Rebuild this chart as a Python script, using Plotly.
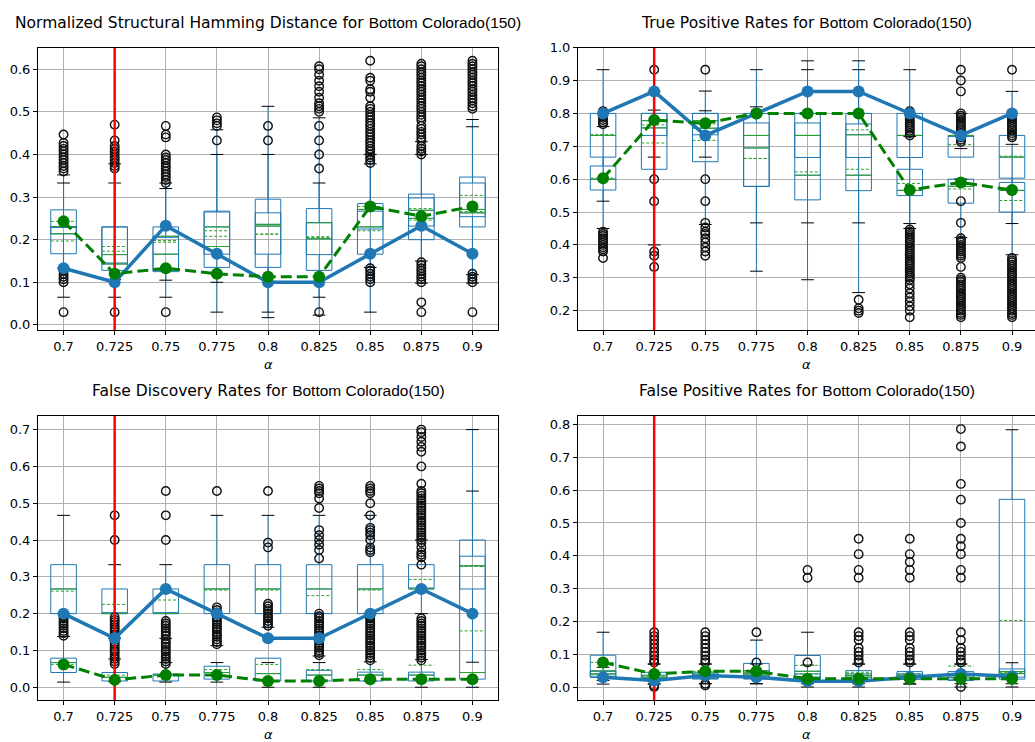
import plotly.graph_objects as go
from plotly.subplots import make_subplots

# ---------------- data ----------------
ALPHAS = ["0.7", "0.725", "0.75", "0.775", "0.8", "0.825", "0.85", "0.875", "0.9"]
MARKED_ALPHA = "0.725"
DATASET = "Bottom Colorado(150)"

# Normalized Structural Hamming Distance
NSHD_A_Q1 = [.167, .128, .125, .135, .135, .128, .166, .200, .230]
NSHD_A_MED = [.214, .165, .166, .230, .236, .240, .271, .269, .271]
NSHD_A_Q3 = [.270, .230, .230, .267, .295, .273, .285, .307, .347]
NSHD_A_MEAN = [.197, .184, .194, .221, .213, .207, .278, .273, .304]
NSHD_A_LO = [.065, .065, .065, .030, .017, .023, .030, .098, .098]
NSHD_A_HI = [.333, .333, .333, .458, .513, .486, .400, .430, .482]
NSHD_B_Q1 = [.214, .143, .128, .166, .166, .165, .225, .232, .254]
NSHD_B_MED = [.231, .143, .208, .184, .232, .202, .230, .250, .263]
NSHD_B_Q3 = [.231, .230, .208, .265, .263, .240, .267, .298, .333]
NSHD_B_MEAN = [.243, .173, .198, .208, .213, .205, .221, .246, .266]
NSHD_B_LO = [.133, .107, .105, .100, .030, .065, .135, .150, .118]
NSHD_B_HI = [.352, .378, .320, .400, .400, .333, .378, .400, .465]
NSHD_BLUE = [.133, .100, .233, .167, .100, .100, .167, .233, .167]
NSHD_GREEN = [.243, .120, .133, .120, .113, .113, .278, .255, .278]
NSHD_OUT = [
    [0.03, 0.1, 0.107, 0.113, 0.12, 0.127, 0.133, 0.36, 0.367, 0.373, 0.38, 0.387, 0.393, 0.4, 0.407, 0.413, 0.42, 0.427, 0.447],
    [0.03, 0.367, 0.373, 0.38, 0.387, 0.393, 0.4, 0.407, 0.413, 0.42, 0.433, 0.47],
    [0.03, 0.333, 0.34, 0.347, 0.353, 0.36, 0.367, 0.373, 0.38, 0.387, 0.393, 0.4, 0.44, 0.447, 0.467],
    [0.433, 0.467, 0.473, 0.48, 0.487],
    [0.433, 0.467],
    [0.03, 0.367, 0.4, 0.433, 0.467, 0.5, 0.507, 0.513, 0.52, 0.533, 0.547, 0.56, 0.573, 0.587, 0.6, 0.607],
    [0.1, 0.107, 0.113, 0.12, 0.127, 0.133, 0.38, 0.387, 0.393, 0.4, 0.407, 0.413, 0.42, 0.427, 0.433, 0.44, 0.447,
     0.453, 0.46, 0.467, 0.473, 0.48, 0.487, 0.493, 0.5, 0.507, 0.513, 0.533, 0.547, 0.553, 0.573, 0.58, 0.62],
    [0.03, 0.053, 0.1, 0.107, 0.113, 0.12, 0.127, 0.133, 0.14, 0.147, 0.4, 0.407, 0.413, 0.42, 0.433, 0.44, 0.447,
     0.453, 0.46, 0.467, 0.48, 0.487, 0.493, 0.5, 0.507, 0.513, 0.52, 0.527, 0.533, 0.54, 0.547, 0.553, 0.56, 0.567,
     0.573, 0.58, 0.587, 0.593, 0.6, 0.607, 0.613],
    [0.03, 0.1, 0.107, 0.113, 0.12, 0.507, 0.513, 0.52, 0.527, 0.533, 0.54, 0.547, 0.553, 0.56, 0.567, 0.573, 0.58,
     0.587, 0.593, 0.6, 0.607, 0.613, 0.62],
]

# True Positive Rates
TPR_A_Q1 = [.667, .630, .653, .578, .537, .565, .666, .667, .603]
TPR_A_MED = [.733, .756, .755, .733, .612, .612, .733, .733, .667]
TPR_A_Q3 = [.800, .800, .800, .800, .800, .800, .800, .733, .733]
TPR_A_MEAN = [.736, .710, .718, .663, .622, .630, .733, .705, .670]
TPR_A_LO = [.533, .400, .462, .320, .294, .255, .465, .693, .465]
TPR_A_HI = [.933, .867, .868, .933, .960, .960, .933, .800, .867]
TPR_B_Q1 = [.567, .733, .735, .578, .666, .666, .550, .527, .500]
TPR_B_MED = [.600, .778, .778, .695, .733, .735, .566, .578, .566]
TPR_B_Q3 = [.640, .800, .800, .771, .771, .768, .630, .600, .590]
TPR_B_MEAN = [.603, .765, .768, .663, .733, .750, .587, .570, .535]
TPR_B_LO = [.450, .667, .667, .467, .467, .467, .450, .422, .370]
TPR_B_HI = [.760, .810, .808, .820, .933, .933, .730, .600, .706]
TPR_BLUE = [.800, .867, .733, .800, .867, .867, .800, .733, .800]
TPR_GREEN = [.603, .780, .770, .800, .800, .800, .567, .590, .567]
TPR_OUT = [
    [0.36, 0.38, 0.387, 0.393, 0.4, 0.407, 0.413, 0.42, 0.427, 0.433, 0.44, 0.767, 0.773, 0.78, 0.787, 0.793, 0.8, 0.807],
    [0.333, 0.367, 0.38, 0.533, 0.6, 0.933],
    [0.367, 0.38, 0.393, 0.407, 0.42, 0.433, 0.44, 0.453, 0.467, 0.533, 0.6, 0.933],
    [],
    [],
    [0.193, 0.2, 0.207, 0.233],
    [0.18, 0.2, 0.213, 0.227, 0.24, 0.253, 0.267, 0.28, 0.293, 0.3, 0.307, 0.313, 0.32, 0.327, 0.333, 0.34, 0.347,
     0.353, 0.36, 0.367, 0.373, 0.38, 0.387, 0.393, 0.4, 0.407, 0.413, 0.42, 0.427, 0.433, 0.44, 0.447, 0.733, 0.74,
     0.747, 0.753, 0.76, 0.767, 0.773, 0.78, 0.787, 0.793, 0.8, 0.807],
    [0.18, 0.187, 0.193, 0.2, 0.207, 0.213, 0.22, 0.227, 0.233, 0.24, 0.247, 0.253, 0.26, 0.267, 0.273, 0.28, 0.287,
     0.293, 0.3, 0.333, 0.36, 0.367, 0.373, 0.38, 0.387, 0.393, 0.4, 0.407, 0.413, 0.42, 0.467, 0.533, 0.713, 0.72,
     0.727, 0.733, 0.74, 0.747, 0.753, 0.76, 0.767, 0.773, 0.78, 0.787, 0.793, 0.8, 0.867, 0.9, 0.933],
    [0.18, 0.187, 0.193, 0.2, 0.207, 0.213, 0.22, 0.227, 0.233, 0.24, 0.247, 0.253, 0.26, 0.267, 0.273, 0.28, 0.287,
     0.293, 0.3, 0.307, 0.313, 0.32, 0.327, 0.333, 0.34, 0.347, 0.353, 0.36, 0.727, 0.733, 0.74, 0.747, 0.753, 0.76,
     0.767, 0.773, 0.78, 0.787, 0.793, 0.8, 0.933],
]

# False Discovery Rates
FDR_A_Q1 = [.200, .200, .200, .200, .200, .200, .200, .267, .022]
FDR_A_MED = [.267, .200, .200, .267, .267, .267, .267, .267, .040]
FDR_A_Q3 = [.333, .267, .267, .333, .333, .333, .333, .333, .400]
FDR_A_MEAN = [.261, .225, .237, .264, .264, .249, .264, .293, .153]
FDR_A_LO = [.200, .133, .133, .113, .163, .085, .200, .200, .000]
FDR_A_HI = [.467, .333, .333, .467, .467, .467, .467, .400, .700]
FDR_B_Q1 = [.040, .017, .017, .022, .017, .017, .017, .017, .267]
FDR_B_MED = [.067, .027, .033, .040, .037, .033, .033, .033, .330]
FDR_B_Q3 = [.079, .040, .036, .057, .079, .046, .041, .041, .356]
FDR_B_MEAN = [.062, .033, .033, .048, .062, .048, .048, .060, .328]
FDR_B_LO = [.014, .015, .014, .014, .000, .000, .017, .000, .068]
FDR_B_HI = [.138, .077, .067, .067, .067, .067, .069, .075, .533]
FDR_BLUE = [.200, .133, .267, .200, .133, .133, .200, .267, .200]
FDR_GREEN = [.062, .020, .033, .033, .017, .017, .022, .022, .022]
FDR_OUT = [
    [0.14, 0.147, 0.153, 0.16, 0.167, 0.173, 0.18, 0.187, 0.193, 0.2],
    [0.063, 0.07, 0.077, 0.083, 0.09, 0.097, 0.103, 0.11, 0.117, 0.123, 0.13, 0.137, 0.143, 0.15, 0.157, 0.163,
     0.17, 0.177, 0.183, 0.19, 0.4, 0.467],
    [0.063, 0.07, 0.077, 0.083, 0.09, 0.097, 0.103, 0.11, 0.117, 0.123, 0.13, 0.14, 0.147, 0.153, 0.16, 0.167,
     0.173, 0.18, 0.4, 0.467, 0.533],
    [0.117, 0.123, 0.13, 0.137, 0.143, 0.15, 0.157, 0.163, 0.17, 0.177, 0.183, 0.19, 0.197, 0.203, 0.21, 0.217, 0.533],
    [0.167, 0.173, 0.18, 0.187, 0.193, 0.2, 0.207, 0.213, 0.22, 0.227, 0.38, 0.393, 0.533],
    [0.087, 0.093, 0.1, 0.107, 0.113, 0.12, 0.127, 0.133, 0.14, 0.147, 0.153, 0.16, 0.167, 0.173, 0.18, 0.187,
     0.193, 0.2, 0.35, 0.373, 0.387, 0.4, 0.413, 0.427, 0.487, 0.513, 0.527, 0.533, 0.54, 0.547],
    [0.073, 0.08, 0.087, 0.093, 0.1, 0.107, 0.113, 0.12, 0.127, 0.133, 0.14, 0.147, 0.153, 0.16, 0.167, 0.173,
     0.18, 0.187, 0.193, 0.367, 0.373, 0.38, 0.4, 0.413, 0.42, 0.427, 0.433, 0.467, 0.5, 0.527, 0.533, 0.54, 0.547],
    [0.073, 0.08, 0.087, 0.093, 0.1, 0.107, 0.113, 0.12, 0.127, 0.133, 0.14, 0.147, 0.153, 0.16, 0.167, 0.173,
     0.18, 0.187, 0.333, 0.353, 0.36, 0.367, 0.38, 0.393, 0.4, 0.407, 0.413, 0.42, 0.427, 0.433, 0.44, 0.447,
     0.453, 0.46, 0.467, 0.473, 0.48, 0.487, 0.493, 0.5, 0.507, 0.513, 0.52, 0.527, 0.533, 0.553, 0.6, 0.64,
     0.653, 0.667, 0.68, 0.693, 0.7],
    [],
]

# False Positive Rates
FPR_A_Q1 = [.029, .020, .025, .025, .027, .019, .024, .024, .024]
FPR_A_MED = [.049, .030, .036, .040, .048, .035, .036, .036, .047]
FPR_A_Q3 = [.097, .045, .045, .072, .096, .050, .047, .047, .572]
FPR_A_MEAN = [.075, .035, .040, .050, .066, .045, .040, .064, .203]
FPR_A_LO = [.009, .009, .010, .010, .000, .000, .009, .000, .000]
FPR_A_HI = [.167, .070, .070, .143, .167, .070, .070, .070, .784]
FPR_B_Q1 = [.033, .020, .025, .025, .020, .020, .024, .020, .030]
FPR_B_MED = [.040, .025, .030, .036, .030, .030, .030, .030, .041]
FPR_B_Q3 = [.048, .036, .040, .050, .040, .040, .040, .040, .055]
FPR_B_MEAN = [.040, .030, .048, .045, .040, .040, .035, .035, .045]
FPR_B_LO = [.020, .010, .010, .010, .010, .010, .010, .010, .010]
FPR_B_HI = [.060, .070, .070, .070, .067, .070, .070, .070, .074]
FPR_BLUE = [.030, .020, .035, .030, .018, .018, .030, .040, .033]
FPR_GREEN = [.075, .040, .048, .048, .025, .025, .025, .025, .025]
FPR_OUT = [
    [],
    [0.0, 0.005, 0.075, 0.083, 0.095, 0.107, 0.119, 0.131, 0.143, 0.155, 0.167],
    [0.005, 0.01, 0.075, 0.083, 0.095, 0.107, 0.119, 0.131, 0.143, 0.155, 0.167],
    [0.075, 0.167],
    [0.075, 0.333, 0.357],
    [0.075, 0.083, 0.095, 0.107, 0.119, 0.143, 0.155, 0.167, 0.333, 0.357, 0.405, 0.452],
    [0.075, 0.083, 0.095, 0.107, 0.119, 0.143, 0.155, 0.167, 0.333, 0.357, 0.381, 0.405, 0.452],
    [0.0, 0.075, 0.083, 0.095, 0.107, 0.119, 0.143, 0.167, 0.333, 0.357, 0.405, 0.429, 0.452, 0.5, 0.571,
     0.619, 0.733, 0.786],
    [],
]

# ---------------- styling / layout ----------------
BLUE = "#1f77b4"
MED_GREEN = "#2ca02c"
LINE_GREEN = "#008000"
FONT = "DejaVu Sans"
BOX_HALF = 0.25
CAP_HALF = 0.125

panels = [
    dict(row=1, col=1, name="Normalized Structural Hamming Distance",
         A=(NSHD_A_Q1, NSHD_A_MED, NSHD_A_Q3, NSHD_A_MEAN, NSHD_A_LO, NSHD_A_HI),
         B=(NSHD_B_Q1, NSHD_B_MED, NSHD_B_Q3, NSHD_B_MEAN, NSHD_B_LO, NSHD_B_HI),
         blue=NSHD_BLUE, green=NSHD_GREEN, out=NSHD_OUT,
         yrange=[-0.012, 0.651], xrange=[-0.5, 8.5],
         xdom=[38 / 1035, 498 / 1035], ydom=[1 - 327 / 742, 1 - 41 / 742]),
    dict(row=1, col=2, name="True Positive Rates",
         A=(TPR_A_Q1, TPR_A_MED, TPR_A_Q3, TPR_A_MEAN, TPR_A_LO, TPR_A_HI),
         B=(TPR_B_Q1, TPR_B_MED, TPR_B_Q3, TPR_B_MEAN, TPR_B_LO, TPR_B_HI),
         blue=TPR_BLUE, green=TPR_GREEN, out=TPR_OUT,
         yrange=[0.141, 1.0005], xrange=[-0.49, 8.45],
         xdom=[578 / 1035, 1.0], ydom=[1 - 327 / 742, 1 - 41 / 742]),
    dict(row=2, col=1, name="False Discovery Rates",
         A=(FDR_A_Q1, FDR_A_MED, FDR_A_Q3, FDR_A_MEAN, FDR_A_LO, FDR_A_HI),
         B=(FDR_B_Q1, FDR_B_MED, FDR_B_Q3, FDR_B_MEAN, FDR_B_LO, FDR_B_HI),
         blue=FDR_BLUE, green=FDR_GREEN, out=FDR_OUT,
         yrange=[-0.036, 0.737], xrange=[-0.5, 8.5],
         xdom=[38 / 1035, 498 / 1035], ydom=[1 - 702 / 742, 1 - 414 / 742]),
    dict(row=2, col=2, name="False Positive Rates",
         A=(FPR_A_Q1, FPR_A_MED, FPR_A_Q3, FPR_A_MEAN, FPR_A_LO, FPR_A_HI),
         B=(FPR_B_Q1, FPR_B_MED, FPR_B_Q3, FPR_B_MEAN, FPR_B_LO, FPR_B_HI),
         blue=FPR_BLUE, green=FPR_GREEN, out=FPR_OUT,
         yrange=[-0.041, 0.826], xrange=[-0.49, 8.45],
         xdom=[578 / 1035, 1.0], ydom=[1 - 702 / 742, 1 - 414 / 742]),
]

pos = list(range(len(ALPHAS)))
mark_pos = ALPHAS.index(MARKED_ALPHA)

fig = make_subplots(rows=2, cols=2)


def segs(values, half):
    xs, ys = [], []
    for p, v in zip(pos, values):
        xs += [p - half, p + half, None]
        ys += [v, v, None]
    return xs, ys


for k, pn in enumerate(panels):
    r, c = pn["row"], pn["col"]
    # boxes (box + whiskers)
    for stats in (pn["A"], pn["B"]):
        q1, med, q3, mean, lo, hi = stats
        fig.add_trace(go.Box(x=pos, q1=q1, median=med, q3=q3, lowerfence=lo, upperfence=hi,
                             width=2 * BOX_HALF, whiskerwidth=0, boxpoints=False,
                             line=dict(color=BLUE, width=1), fillcolor="rgba(0,0,0,0)",
                             hoverinfo="skip", showlegend=False), row=r, col=c)
    # caps
    for stats in (pn["A"], pn["B"]):
        for vals in (stats[4], stats[5]):
            xs, ys = segs(vals, CAP_HALF)
            fig.add_trace(go.Scatter(x=xs, y=ys, mode="lines", line=dict(color="black", width=1),
                                     hoverinfo="skip", showlegend=False), row=r, col=c)
    # medians and means
    for stats in (pn["A"], pn["B"]):
        xs, ys = segs(stats[1], BOX_HALF)
        fig.add_trace(go.Scatter(x=xs, y=ys, mode="lines", line=dict(color=MED_GREEN, width=1),
                                 hoverinfo="skip", showlegend=False), row=r, col=c)
        xs, ys = segs(stats[3], BOX_HALF)
        fig.add_trace(go.Scatter(x=xs, y=ys, mode="lines",
                                 line=dict(color=MED_GREEN, width=1, dash="3px,2px"),
                                 hoverinfo="skip", showlegend=False), row=r, col=c)
    # outliers
    ox, oy = [], []
    for p, vals in zip(pos, pn["out"]):
        ox += [p] * len(vals)
        oy += vals
    fig.add_trace(go.Scatter(x=ox, y=oy, mode="markers",
                             marker=dict(symbol="circle-open", size=8.5, color="#111111", line=dict(width=1.4)),
                             hoverinfo="skip", showlegend=False), row=r, col=c)
    # red marker line
    fig.add_trace(go.Scatter(x=[mark_pos, mark_pos], y=pn["yrange"], mode="lines",
                             line=dict(color="red", width=2.5), hoverinfo="skip", showlegend=False),
                  row=r, col=c)
    # summary lines
    fig.add_trace(go.Scatter(x=pos, y=pn["blue"], mode="lines+markers",
                             line=dict(color=BLUE, width=3.5), marker=dict(color=BLUE, size=12),
                             hoverinfo="skip", showlegend=False), row=r, col=c)
    fig.add_trace(go.Scatter(x=pos, y=pn["green"], mode="lines+markers",
                             line=dict(color=LINE_GREEN, width=3, dash="11px,5px"),
                             marker=dict(color=LINE_GREEN, size=12),
                             hoverinfo="skip", showlegend=False), row=r, col=c)

    axn = "" if k == 0 else str(k + 1)
    fig.update_layout(**{
        "xaxis" + axn: dict(domain=pn["xdom"], range=pn["xrange"], tickmode="array", tickvals=pos,
                            ticktext=ALPHAS, showgrid=True, gridcolor="#b0b0b0", gridwidth=1,
                            showline=True, linecolor="black", linewidth=1, mirror=True,
                            ticks="outside", ticklen=4, tickcolor="black", zeroline=False,
                            tickfont=dict(family=FONT, size=13, color="black")),
        "yaxis" + axn: dict(domain=pn["ydom"], range=pn["yrange"], dtick=0.1, tick0=0, tickformat=".1f",
                            showgrid=True, gridcolor="#b0b0b0", gridwidth=1,
                            showline=True, linecolor="black", linewidth=1, mirror=(c == 1),
                            ticks="outside", ticklen=4, tickcolor="black", zeroline=False,
                            tickfont=dict(family=FONT, size=13, color="black")),
    })
    xref = "x" + axn
    yref = "y" + axn
    fig.add_annotation(
        text=pn["name"] + ' for <span style="font-family:Liberation Sans">' + DATASET + "</span>",
        x=0.5, y=1, xref=xref + " domain", yref=yref + " domain", xanchor="center", yanchor="bottom",
        yshift=14, showarrow=False, font=dict(family=FONT, size=15.5, color="black"))
    fig.add_annotation(
        text="<i>α</i>", x=0.5, y=0, xref=xref + " domain", yref=yref + " domain",
        xanchor="center", yanchor="top", yshift=-25, showarrow=False,
        font=dict(family=FONT, size=13, color="black"))

fig.update_layout(width=1035, height=742, margin=dict(l=0, r=0, t=0, b=0),
                  paper_bgcolor="white", plot_bgcolor="white", boxmode="overlay",
                  showlegend=False)

fig.write_html("out.html")
